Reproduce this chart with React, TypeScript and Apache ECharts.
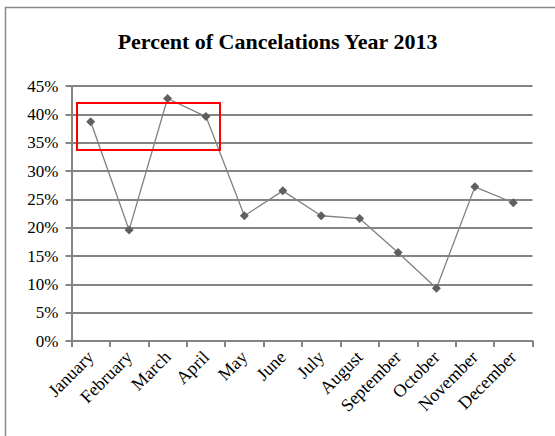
import React, { useEffect, useRef } from "react";
import * as echarts from "echarts";

const months = [
  "January", "February", "March", "April", "May", "June",
  "July", "August", "September", "October", "November", "December",
];
const cancelPct = [38.7, 19.6, 42.8, 39.6, 22.1, 26.5, 22.1, 21.6, 15.6, 9.3, 27.2, 24.4];
const yTicks = { min: 0, max: 45, interval: 5 };
const titleText = "Percent of Cancelations Year 2013";

const FONT = "'Liberation Serif', 'Times New Roman', serif";

export default function App() {
  const ref = useRef<HTMLDivElement>(null);
  useEffect(() => {
    if (!ref.current) return;
    const chart = echarts.init(ref.current, undefined, { renderer: "svg" });
    chart.setOption({
      animation: false,
      backgroundColor: "#ffffff",
      title: {
        text: titleText,
        left: "center",
        top: 25,
        textStyle: { fontFamily: FONT, fontSize: 22, fontWeight: "bold", color: "#000" },
      },
      grid: { left: 71.5, right: 22.5, top: 86, bottom: 95 },
      xAxis: {
        type: "category",
        data: months,
        boundaryGap: true,
        axisLine: { show: true, lineStyle: { color: "#848484", width: 2 } },
        axisTick: { show: true, length: 6, alignWithLabel: false, lineStyle: { color: "#848484", width: 2 } },
        axisLabel: {
          rotate: 45,
          interval: 0,
          margin: 13,
          fontFamily: FONT,
          fontSize: 18,
          color: "#000",
        },
      },
      yAxis: {
        type: "value",
        min: yTicks.min,
        max: yTicks.max,
        interval: yTicks.interval,
        axisLine: { show: true, lineStyle: { color: "#848484", width: 2 } },
        axisTick: { show: true, length: 6, lineStyle: { color: "#848484", width: 2 } },
        splitLine: { show: true, lineStyle: { color: "#848484", width: 2 } },
        axisLabel: {
          formatter: "{value}%",
          margin: 13,
          fontFamily: FONT,
          fontSize: 17,
          color: "#000",
        },
      },
      series: [
        {
          type: "line",
          data: cancelPct,
          symbol: "diamond",
          symbolSize: 9,
          lineStyle: { color: "#808080", width: 1.3 },
          itemStyle: { color: "#5f5f5f" },
        },
      ],
      graphic: [
        {
          type: "rect",
          shape: { x: 5.5, y: 7.5, width: 560, height: 440 },
          style: { fill: "none", stroke: "#8a8a8a", lineWidth: 1.5 },
          silent: true,
        },
        {
          type: "rect",
          shape: { x: 77, y: 103, width: 143, height: 47 },
          style: { fill: "none", stroke: "#ff0000", lineWidth: 2 },
          silent: true,
          z: 100,
        },
      ],
    });
    return () => chart.dispose();
  }, []);
  return (
    <div
      ref={ref}
      style={{ position: "fixed", left: 0, top: 0, width: 555, height: 436 }}
    />
  );
}
